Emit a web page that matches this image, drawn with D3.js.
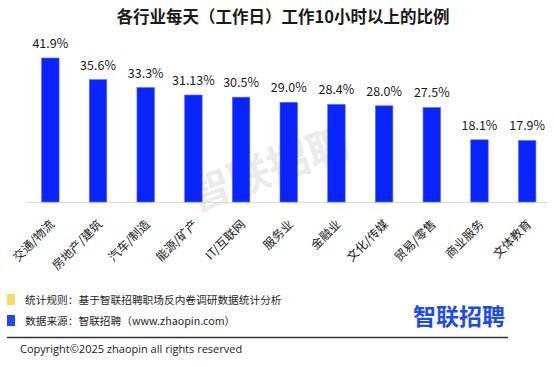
<!DOCTYPE html>
<html>
<head>
<meta charset="utf-8">
<script src="https://cdn.jsdelivr.net/npm/d3@7/dist/d3.min.js"></script>
<style>
  html, body { margin: 0; padding: 0; background: #fff; }
  svg { display: block; }
</style>
</head>
<body>
<svg id="chart" width="554" height="367"></svg>
<script>
const categories = ["交通/物流", "房地产/建筑", "汽车/制造", "能源/矿产", "IT/互联网", "服务业", "金融业", "文化/传媒", "贸易/零售", "商业服务", "文体教育"];
const values = [41.9, 35.6, 33.3, 31.13, 30.5, 29.0, 28.4, 28.0, 27.5, 18.1, 17.9];
const valueLabels = ["41.9%", "35.6%", "33.3%", "31.13%", "30.5%", "29.0%", "28.4%", "28.0%", "27.5%", "18.1%", "17.9%"];
const title = "各行业每天（工作日）工作10小时以上的比例";
const legendItems = ["统计规则：基于智联招聘职场反内卷调研数据统计分析", "数据来源：智联招聘（www.zhaopin.com）"];
const legendColors = ["#FFD966", "#1F45FF"];
const copyright = "Copyright©2025 zhaopin all rights reserved";
const brand = "智联招聘";

const CJK = "'Noto Sans CJK SC', 'Noto Sans', sans-serif";
const svg = d3.select("#chart");

// watermark
svg.append("text")
  .attr("transform", "translate(274,183) rotate(-20)")
  .attr("text-anchor", "middle")
  .attr("font-family", CJK)
  .attr("font-weight", "bold")
  .attr("font-size", 42)
  .attr("fill", "#ebebeb")
  .text(brand);

// title
svg.append("text")
  .attr("x", 283).attr("y", 23)
  .attr("text-anchor", "middle")
  .attr("font-family", CJK)
  .attr("font-weight", "bold")
  .attr("font-size", 16.5)
  .attr("fill", "#1a1a1a")
  .text(title);

const x = d3.scaleBand().domain(categories).range([26.5, 551]).paddingInner(0.633).paddingOuter(0.3165);
const y = d3.scaleLinear().domain([0, 41.9]).range([202, 58]);

// axis line
const axis = svg.append("g").attr("transform", "translate(0,202)")
  .call(d3.axisBottom(x).tickSize(0).tickFormat(""));
axis.select(".domain").attr("stroke", "#d9d9d9").attr("stroke-width", 1.2).attr("d", "M26.5,0.5H548");

// bars
svg.append("g").selectAll("rect").data(values).join("rect")
  .attr("x", (d, i) => x(categories[i]))
  .attr("y", d => y(d))
  .attr("width", x.bandwidth())
  .attr("height", d => y(0) - y(d))
  .attr("fill", "#0A24FF")
  .attr("stroke", "#5a6dff")
  .attr("stroke-width", 0.6);

// value labels
svg.append("g").selectAll("text").data(values).join("text")
  .attr("x", (d, i) => x(categories[i]) + x.bandwidth() / 2)
  .attr("y", d => y(d) - 10)
  .attr("text-anchor", "middle")
  .attr("font-family", CJK)
  .attr("font-size", 12.5)
  .attr("fill", "#1a1a1a")
  .text((d, i) => valueLabels[i]);

// category labels
svg.append("g").selectAll("text").data(categories).join("text")
  .attr("transform", d => `translate(${x(d) + x.bandwidth() / 2 + 5},225) rotate(-45)`)
  .attr("text-anchor", "end")
  .attr("font-family", CJK)
  .attr("font-size", 12)
  .attr("fill", "#1a1a1a")
  .text(d => d);

// legend
const leg = svg.append("g");
legendItems.forEach((t, i) => {
  const yy = 294 + i * 21;
  leg.append("rect").attr("x", 7).attr("y", yy).attr("width", 8).attr("height", 11).attr("fill", legendColors[i]);
  leg.append("text").attr("x", 25).attr("y", yy + 10)
    .attr("font-family", CJK).attr("font-size", 10.7).attr("fill", "#262626").text(t);
});

// brand logo
svg.append("text")
  .attr("x", 459).attr("y", 325)
  .attr("text-anchor", "middle")
  .attr("font-family", CJK)
  .attr("font-weight", "bold")
  .attr("font-size", 23)
  .attr("fill", "#1B4CF2")
  .text(brand);

// separator
svg.append("line").attr("x1", 7).attr("x2", 508).attr("y1", 337.5).attr("y2", 337.5)
  .attr("stroke", "#333").attr("stroke-width", 1.3);

// copyright
svg.append("text").attr("x", 20).attr("y", 353)
  .attr("font-family", "'Open Sans', 'Noto Sans', sans-serif")
  .attr("font-size", 11).attr("fill", "#1a1a1a").text(copyright);
</script>
</body>
</html>
